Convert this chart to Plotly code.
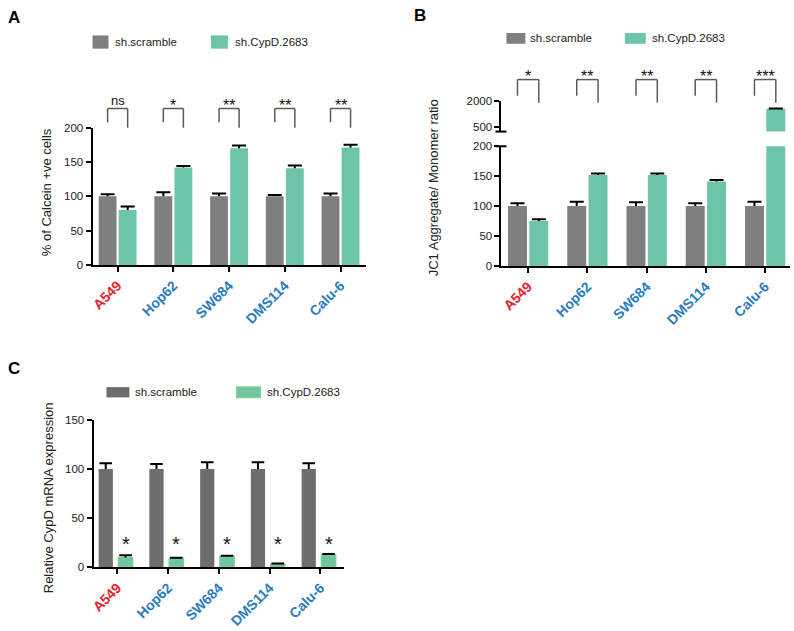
import numpy as np
import plotly.graph_objects as go

# ---------------- data ----------------
cells = ["A549", "Hop62", "SW684", "DMS114", "Calu-6"]
cell_colors = ["#e4242b", "#2a7bbd", "#2a7bbd", "#2a7bbd", "#2a7bbd"]
series = ["sh.scramble", "sh.CypD.2683"]

a_scr = [100, 100, 100, 100, 100]
a_scr_err = [3, 6, 4, 2, 4]
a_cyp = [80, 142, 170, 141, 171]
a_cyp_err = [5, 2, 4, 4, 4]
a_sig = ["ns", "*", "**", "**", "**"]

b_scr = [100, 100, 100, 100, 100]
b_scr_err = [5, 7.5, 6.5, 5, 7.5]
b_cyp = [75, 152, 152, 141, 1560]
b_cyp_err = [3, 2.5, 2.5, 2.5, 10]
b_sig = ["*", "**", "**", "**", "***"]
b_break = 200  # top of the lower segment of the broken axis

c_scr = [100, 100, 100, 100, 100]
c_scr_err = [6, 5, 7, 7, 6]
c_cyp = [9.7, 8.7, 10.7, 3.0, 12.7]
c_cyp_err = [2.3, 0.8, 0.8, 0.6, 0.6]
c_sig = ["*", "*", "*", "*", "*"]

# ---------------- style ----------------
W, H = 794, 631
FONT = "Liberation Sans, Arial, Helvetica, sans-serif"
GRAY = "#7f7f7f"
GREEN = "#6cc5a8"
GRAY_C = "#6d6d6d"
GREEN_C = "#6fc4a2"
GREEN_C_LINE = "#7fd08c"


def px(x):
    return x / W


def py(y):
    return 1 - y / H


idx = np.arange(len(cells))
ticktext = [f"<span style='color:{c}'><b>{t}</b></span>" for t, c in zip(cells, cell_colors)]

fig = go.Figure()


def add_bars(vals, errs, xa, ya, off, wid, color, line_color=None, line_w=0, cap=10):
    vals = np.array([np.nan if v is None else v for v in vals], float)
    errs = np.asarray(errs, float)
    fig.add_trace(go.Bar(
        x=idx, y=vals, width=wid, offset=off, xaxis=xa, yaxis=ya,
        marker=dict(color=color, line=dict(color=line_color or color, width=line_w)),
        error_y=dict(type="data", array=errs, arrayminus=np.zeros(len(errs)),
                     symmetric=False, width=0, thickness=2, color="black"),
        showlegend=False, hoverinfo="skip"))
    fig.add_trace(go.Scatter(
        x=idx + off + wid / 2, y=vals + errs, mode="markers", xaxis=xa, yaxis=ya,
        marker=dict(symbol="line-ew", size=cap, line=dict(width=2, color="black")),
        showlegend=False, hoverinfo="skip"))


# Panel A
add_bars(a_scr, a_scr_err, "x", "y", -0.34, 0.32, GRAY)
add_bars(a_cyp, a_cyp_err, "x", "y", 0.02, 0.32, GREEN)
# Panel B (lower and upper segments of broken axis)
add_bars(b_scr, b_scr_err, "x2", "y2", -0.34, 0.32, GRAY)
add_bars(b_cyp, b_cyp_err, "x2", "y2", 0.02, 0.32, GREEN)
b_cyp_upper = [v if v > b_break else None for v in b_cyp]
add_bars(b_cyp_upper, b_cyp_err, "x2", "y3", 0.02, 0.32, GREEN)
# Panel C
add_bars(c_scr, c_scr_err, "x3", "y4", -0.37, 0.28, GRAY_C, cap=9)
add_bars(c_cyp, c_cyp_err, "x3", "y4", 0.02, 0.28, GREEN_C, GREEN_C_LINE, 1.5, cap=9)

axis_common = dict(showline=True, linewidth=2, linecolor="black", ticks="outside",
                   ticklen=5, tickwidth=2, tickcolor="black", showgrid=False,
                   zeroline=False, tickfont=dict(family=FONT, size=11.5, color="#222"))
xcommon = dict(axis_common, tickvals=idx, ticktext=ticktext, tickangle=-45,
               tickfont=dict(family=FONT, size=14))

fig.update_layout(
    width=W, height=H, margin=dict(l=0, r=0, t=0, b=0),
    paper_bgcolor="white", plot_bgcolor="white", barmode="overlay",
    font=dict(family=FONT, size=12, color="#222"),
    xaxis=dict(xcommon, domain=[px(89), px(364)], range=[-0.45, 4.46], anchor="y"),
    yaxis=dict(axis_common, domain=[py(264), py(124)], range=[0, 200],
               tickvals=[0, 50, 100, 150, 200], anchor="x"),
    xaxis2=dict(xcommon, domain=[px(500), px(790)], range=[-0.45, 4.42], anchor="y2"),
    yaxis2=dict(axis_common, domain=[py(265), py(143)], range=[0, b_break],
                tickvals=[0, 50, 100, 150, 200], anchor="x2"),
    yaxis3=dict(axis_common, domain=[py(128), py(97)], range=[212, 2000],
                tickvals=[500, 2000], anchor="x2"),
    xaxis3=dict(xcommon, domain=[px(90), px(342)], range=[-0.47, 4.47], anchor="y4"),
    yaxis4=dict(axis_common, domain=[py(572), py(422)], range=[0, 150],
                tickvals=[0, 50, 100, 150], anchor="x3"),
)

shapes = []
annotations = []

# break marks on panel B axis
for yr, yv in (("y3 domain", 0), ("y2 domain", 1)):
    shapes.append(dict(type="line", xref="paper", yref=yr, x0=px(494), x1=px(505),
                       y0=yv, y1=yv, line=dict(color="black", width=2)))


# significance brackets
def brackets(xa, sig, off_g, off_c, top, lbot, rbot, lab_ns, lab_star):
    for i, s in enumerate(sig):
        xl = i + off_g
        xr = i + off_c
        for x0, x1, y0, y1 in ((xl, xr, top, top), (xl, xl, top, lbot), (xr, xr, top, rbot)):
            shapes.append(dict(type="line", xref=xa, yref="paper", x0=x0, x1=x1,
                               y0=py(y0), y1=py(y1), line=dict(color="#5a5a5a", width=1.5)))
        is_ns = s == "ns"
        annotations.append(dict(text=s, xref=xa, yref="paper", x=(xl + xr) / 2,
                                y=py(lab_ns if is_ns else lab_star),
                                xanchor="center", yanchor="middle", showarrow=False,
                                font=dict(family=FONT, size=13 if is_ns else 16, color="#111")))


brackets("x", a_sig, -0.18, 0.18, 104.5, 118.5, 124, 96.5, 101)
brackets("x2", b_sig, -0.18, 0.18, 75, 91.5, 98.5, 66.5, 71.5)

# stars panel C
for i, s in enumerate(c_sig):
    annotations.append(dict(text=s, xref="x3", yref="y4", x=i + 0.16, y=30, yshift=-6,
                            xanchor="center", yanchor="middle", showarrow=False,
                            font=dict(family=FONT, size=20, color="#111")))


# legends
def legend(items, y0, y1, text_size=11.5):
    for (x0, x1, tx, color, lc), name in zip(items, series):
        shapes.append(dict(type="rect", xref="paper", yref="paper", x0=px(x0), x1=px(x1),
                           y0=py(y1), y1=py(y0), fillcolor=color,
                           line=dict(color=lc or color, width=1.5 if lc else 0)))
        annotations.append(dict(text=name, xref="paper", yref="paper", x=px(tx),
                                y=py((y0 + y1) / 2), xanchor="left", yanchor="middle",
                                showarrow=False, font=dict(family=FONT, size=text_size, color="#222")))


legend([(89, 105, 110, GRAY, None), (208, 225, 230.5, GREEN, None)], 30, 43.5)
legend([(505, 524, 526.5, GRAY, None), (624, 645, 649.5, GREEN, None)], 27.5, 38.5)
legend([(103, 126, 129.5, GRAY_C, None), (234, 257.5, 262, GREEN_C, GREEN_C_LINE)], 388.5, 399)

# axis titles
for text, x, y in (("% of Calcein +ve cells", 43, 190),
                   ("JC1 Aggregate/ Monomer ratio", 432, 185),
                   ("Relative CypD mRNA expression", 45, 501)):
    annotations.append(dict(text=text, xref="paper", yref="paper", x=px(x), y=py(y),
                            textangle=-90, xanchor="center", yanchor="middle", showarrow=False,
                            font=dict(family=FONT, size=13, color="#222")))

# panel letters
for text, x, y in (("A", 2, 12), ("B", 410, 10), ("C", 2, 370)):
    annotations.append(dict(text=f"<b>{text}</b>", xref="paper", yref="paper", x=px(x), y=py(y),
                            xanchor="left", yanchor="middle", showarrow=False,
                            font=dict(family=FONT, size=17, color="black")))

fig.update_layout(shapes=shapes, annotations=annotations)
fig.write_html("out.html", config={"displayModeBar": False},
               post_script="document.body.style.margin='0';")
